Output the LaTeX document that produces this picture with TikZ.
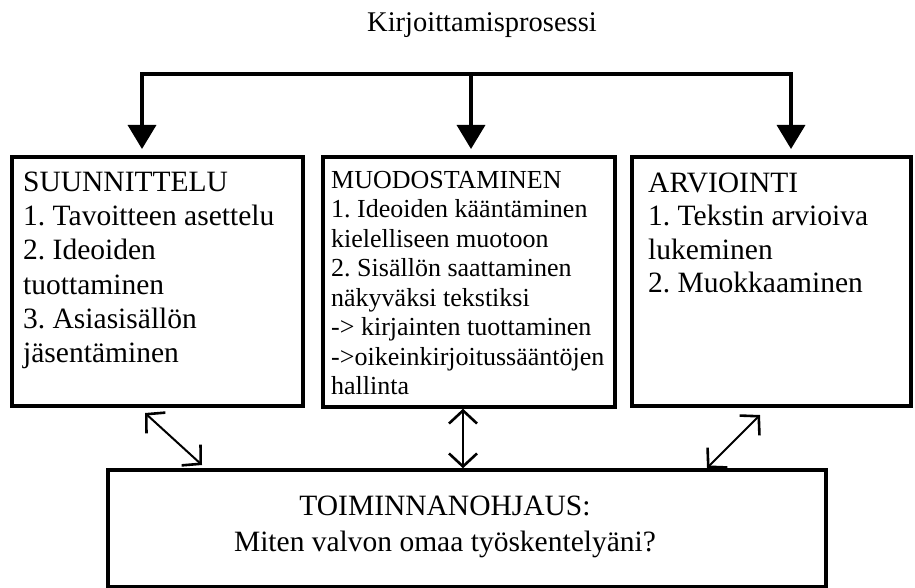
\documentclass[tikz,border=0pt]{standalone}
\usepackage{fontspec}
\setmainfont{Liberation Serif}
\frenchspacing
\usetikzlibrary{arrows.meta}

\tikzset{
  frame/.style={draw, line width=3.5pt, rectangle, anchor=north west, inner sep=0pt, outer sep=0pt},
  boxtext/.style={anchor=north west, align=left, inner sep=0pt},
  flow/.style={line width=3.5pt, -{Triangle[width=28pt,length=24pt]}, shorten >=8pt},
  link/.style={line width=2pt, {Straight Barb[length=13pt,width=28pt,line width=2.6pt]}-{Straight Barb[length=13pt,width=28pt,line width=2.6pt]}},
}

\begin{document}
\begin{tikzpicture}[x=1pt, y=1pt]
  \useasboundingbox (0,0) rectangle (915,-588);
  \node[anchor=base, inner sep=0pt, font=\fontsize{28.5}{34}\selectfont] (title) at (482,-32) {Kirjoittamisprosessi};

  % the three phases and the control box
  \node[frame, minimum width=291, minimum height=249] (plan) at (12,-157) {};
  \node[frame, minimum width=292, minimum height=250] (form) at (323,-157) {};
  \node[frame, minimum width=279, minimum height=249] (eval) at (632,-157) {};
  \node[frame, minimum width=718, minimum height=116.5] (ctrl) at (108,-470) {};

  \node[boxtext, font=\fontsize{29.5}{34.3}\selectfont] (plantext) at (23,-171.5)
    {SUUNNITTELU\\1. Tavoitteen asettelu\\2. Ideoiden\\tuottaminen\\3. Asiasisällön\\jäsentäminen};
  \node[boxtext, font=\fontsize{26}{29.5}\selectfont] (formtext) at (331,-171)
    {MUODOSTAMINEN\\1. Ideoiden kääntäminen\\kielelliseen muotoon\\2. Sisällön saattaminen\\näkyväksi tekstiksi\\-> kirjainten tuottaminen\\->oikeinkirjoitussääntöjen\\hallinta};
  \node[boxtext, font=\fontsize{29.5}{33.5}\selectfont] (evaltext) at (648,-172.5)
    {ARVIOINTI\\1. Tekstin arvioiva\\lukeminen\\2. Muokkaaminen};
  \node[anchor=north, align=center, inner sep=0pt, font=\fontsize{29.5}{36.7}\selectfont] (ctrltext) at (445,-495.5)
    {TOIMINNANOHJAUS:\\Miten valvon omaa työskentelyäni?};

  % tree from the top
  \coordinate (barL) at (142,-74);
  \coordinate (barM) at (471,-74);
  \coordinate (barR) at (791,-74);
  \draw[line width=3.5pt, line cap=rect] (barL) -- (barR);
  \draw[flow] (barL) -- (barL |- plan.north);
  \draw[flow] (barM) -- (barM |- form.north);
  \draw[flow] (barR) -- (barR |- eval.north);

  % links to the control box
  \draw[link] ([shift={(-12.5,-7)}]plan.south) -- ([shift={(94,5)}]ctrl.north west);
  \draw[link, shorten <=1.75pt, shorten >=1.75pt] ([xshift=-6]form.south) -- ([xshift=-4]ctrl.north);
  \draw[link] ([shift={(-11.5,-9)}]eval.south) -- ([shift={(-119,2)}]ctrl.north east);
\end{tikzpicture}
\end{document}
